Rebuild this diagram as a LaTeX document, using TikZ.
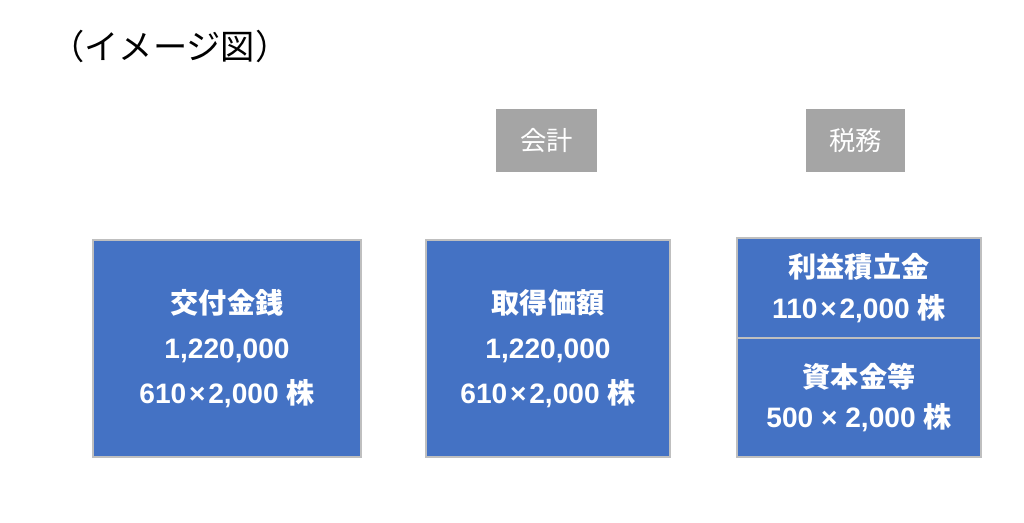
\documentclass[tikz,border=0pt]{standalone}
\usepackage{fontspec}
\setmainfont{Liberation Sans}
\newfontfamily\jp{Noto Sans CJK JP}
\usepackage{tikz}
\usetikzlibrary{positioning}
\definecolor{boxblue}{HTML}{4472C4}
\definecolor{rimgray}{HTML}{BFBFBF}
\definecolor{taggray}{HTML}{A5A5A5}
\newcommand{\mul}{\hspace{0.1em}×\hspace{0.1em}}

\begin{document}
\begin{tikzpicture}[x=0.02cm,y=-0.02cm,
  valbox/.style={rectangle,draw=rimgray,line width=1.2pt,outer sep=0pt,fill=boxblue,text=white,align=center,inner sep=0pt,font=\fontsize{16}{25.6}\selectfont\bfseries},
  tagbox/.style={rectangle,fill=taggray,text=white,inner sep=0pt,minimum height=1.26cm,font=\jp\fontsize{15}{17}\selectfont}]
\useasboundingbox[fill=white] (0,0) rectangle (1024,522);
\node[anchor=west,inner sep=0pt,font=\jp\fontsize{19.5}{22}\selectfont] (title) at (50,46) {（イメージ図）};
% column headings
\node[tagbox,minimum width=2.02cm] (kaikei) at (546.5,140.5) {会計};
\node[tagbox,minimum width=1.98cm] (zeimu) at (855.5,140.5) {税務};
% amounts
\node[valbox,minimum width=5.36cm,minimum height=4.34cm] (kofu) at (227,348.5) {{\jp 交付金銭}\\1,220,000\\610\mul 2,000 {\jp 株}};
\node[valbox,minimum width=4.88cm,minimum height=4.34cm] (shutoku) at (548,348.5) {{\jp 取得価額}\\1,220,000\\610\mul 2,000 {\jp 株}};
\node[valbox,minimum width=4.88cm,minimum height=2.0cm,font=\fontsize{16}{23.2}\selectfont\bfseries] (rieki) at (859,288) {{\jp 利益積立金}\\110\mul 2,000 {\jp 株}};
\node[valbox,minimum width=4.88cm,minimum height=2.38cm,font=\fontsize{16}{23.2}\selectfont\bfseries,below=0pt of rieki] (shihon) {{\jp 資本金等}\\500 × 2,000 {\jp 株}};
\end{tikzpicture}
\end{document}
